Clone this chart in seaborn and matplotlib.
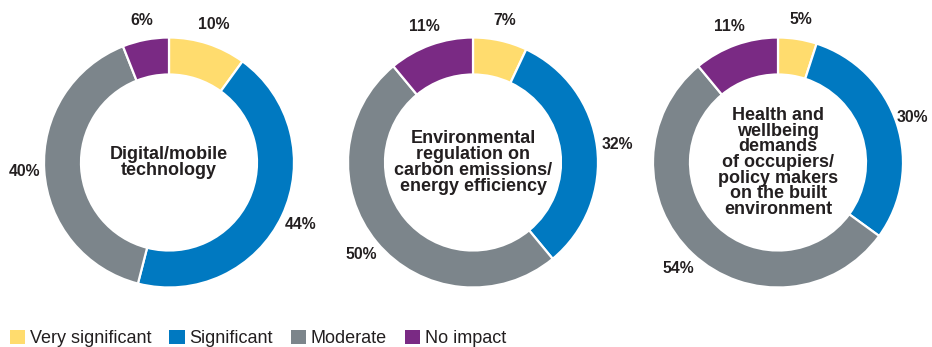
import numpy as np
import matplotlib
matplotlib.use("Agg")
import matplotlib.pyplot as plt
import seaborn as sns

# data
topics = [
    "Digital/mobile\ntechnology",
    "Environmental\nregulation on\ncarbon emissions/\nenergy efficiency",
    "Health and\nwellbeing\ndemands\nof occupiers/\npolicy makers\non the built\nenvironment",
]
categories = ["Very significant", "Significant", "Moderate", "No impact"]
very_significant = [10, 7, 5]
significant = [44, 32, 30]
moderate = [40, 50, 54]
no_impact = [6, 11, 11]

colors = ["#FFDC6E", "#0079C1", "#7C858B", "#7A2A84"]
text_color = "#231F20"

sns.set_theme(style="white")
plt.rcParams["font.family"] = ["Liberation Sans", "DejaVu Sans"]

W, H = 932, 347
fig = plt.figure(figsize=(W / 100, H / 100), dpi=100)
ax = fig.add_axes([0, 0, 1, 1])

centers_x = [169, 473, 778]
center_y = H - 162.5
radius = 125
ring = 37

for i, topic in enumerate(topics):
    vals = [very_significant[i], significant[i], moderate[i], no_impact[i]]
    cx = centers_x[i]
    ax.pie(vals, colors=colors, startangle=90, counterclock=False,
           radius=radius, center=(cx, center_y),
           wedgeprops=dict(width=ring, edgecolor="white", linewidth=1.6))
    # percentage labels around the ring, kept inside the figure
    cum = np.cumsum([0] + vals[:-1])
    for v, c0 in zip(vals, cum):
        theta = np.deg2rad((c0 + v / 2) / sum(vals) * 360)
        r = radius * 1.16
        x = min(cx + r * np.sin(theta), W - 20)
        ax.text(x, center_y + r * np.cos(theta), f"{v}%",
                ha="center", va="center", fontsize=11.3, fontweight="bold",
                color=text_color)
    ax.text(cx, center_y, topic, ha="center", va="center", fontsize=13,
            fontweight="bold", color=text_color, linespacing=0.9)

# pie() resets the limits, so set them afterwards
ax.set_xlim(0, W)
ax.set_ylim(0, H)
ax.set_aspect("equal")
ax.axis("off")

handles = [plt.Rectangle((0, 0), 1, 1, facecolor=c, edgecolor="none") for c in colors]
fig.legend(handles, categories, loc="lower left", bbox_to_anchor=(10 / W, 0),
           ncol=4, frameon=False, fontsize=13, handlelength=0.85, handleheight=0.85,
           handletextpad=0.25, columnspacing=1.0, borderpad=0, borderaxespad=0,
           labelcolor=text_color)

fig.savefig("out.png", dpi=100)
